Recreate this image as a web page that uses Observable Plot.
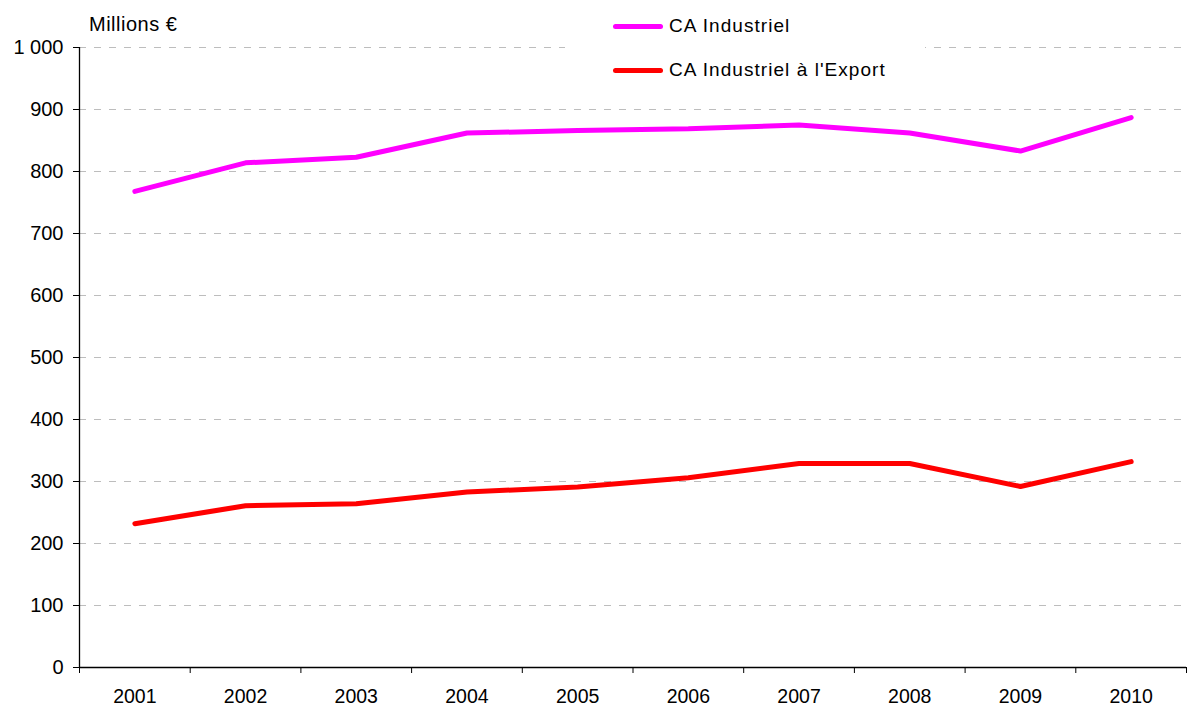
<!DOCTYPE html>
<html>
<head>
<meta charset="utf-8">
<script src="https://cdn.jsdelivr.net/npm/d3@7"></script>
<script src="https://cdn.jsdelivr.net/npm/@observablehq/plot@0.6"></script>
<style>
  html, body { margin: 0; padding: 0; background: #fff; }
  #wrap { position: relative; width: 1188px; height: 708px; font-family: "Liberation Sans", Arial, sans-serif; }
  #unit { position: absolute; left: 89px; top: 13px; font-size: 20px; letter-spacing: 0.5px; color: #000; }
  #legend { position: absolute; left: 565px; top: 4px; width: 360px; height: 90px; background: #fff; }
  .li { position: absolute; left: 48px; height: 24px; display: flex; align-items: center; font-size: 19px; letter-spacing: 1.05px; color: #000; white-space: nowrap; }
  .sw { width: 50px; height: 5px; border-radius: 3px; margin-right: 6px; }
</style>
</head>
<body>
<div id="wrap">
  <div id="chart"></div>
  <div id="unit">Millions €</div>
  <div id="legend"></div>
</div>
<script>
const years = [2001, 2002, 2003, 2004, 2005, 2006, 2007, 2008, 2009, 2010];
const caIndustriel = [768, 814, 823, 862, 866, 869, 875, 862, 833, 887];
const caExport = [232, 261, 264, 283, 291, 306, 329, 329, 292, 332];
const seriesNames = ["CA Industriel", "CA Industriel à l'Export"];
const seriesColors = ["#FF00FF", "#FF0000"];
const yTicks = [0, 100, 200, 300, 400, 500, 600, 700, 800, 900, 1000];

const data = [];
years.forEach((y, i) => {
  data.push({year: y, value: caIndustriel[i], series: seriesNames[0]});
  data.push({year: y, value: caExport[i], series: seriesNames[1]});
});
const boundaries = [years[0] - 0.5, ...years.map(y => y + 0.5)];
const fmt = d3.formatLocale({decimal: ",", thousands: "\u00a0", grouping: [3], currency: ["", " €"]}).format(",d");

const plot = Plot.plot({
  width: 1188,
  height: 708,
  marginLeft: 79,
  marginRight: 2,
  marginTop: 47,
  marginBottom: 41,
  style: {fontFamily: "Liberation Sans, Arial, sans-serif", fontSize: "20px", color: "#000", background: "#fff", overflow: "visible"},
  x: {domain: [years[0] - 0.5, years[years.length - 1] + 0.5]},
  y: {domain: [0, 1000]},
  color: {domain: seriesNames, range: seriesColors},
  marks: [
    Plot.gridY(yTicks.filter(d => d > 0), {stroke: "#bdbdbd", strokeOpacity: 1, strokeDasharray: "7,8", strokeWidth: 1}),
    Plot.axisY(yTicks, {tickSize: 6, tickPadding: 10, tickFormat: fmt, label: null, fontSize: 20, stroke: "#000"}),
    Plot.axisX(years, {tickSize: 0, tickPadding: 22, tickFormat: d => String(d), label: null, fontSize: 19.5}),
    Plot.axisX(boundaries, {tickSize: 6, tickFormat: () => "", label: null, stroke: "#000"}),
    Plot.ruleX([boundaries[0]], {stroke: "#000", strokeWidth: 1.3}),
    Plot.ruleY([0], {stroke: "#000", strokeWidth: 1.3}),
    Plot.line(data, {x: "year", y: "value", z: "series", stroke: "series", strokeWidth: 5, strokeLinecap: "round", strokeLinejoin: "miter"})
  ]
});
document.getElementById("chart").appendChild(plot);

const legend = document.getElementById("legend");
seriesNames.forEach((name, i) => {
  const row = document.createElement("div");
  row.className = "li";
  row.style.top = (10 + i * 44) + "px";
  const sw = document.createElement("div");
  sw.className = "sw";
  sw.style.background = seriesColors[i];
  const t = document.createElement("span");
  t.textContent = name;
  row.appendChild(sw);
  row.appendChild(t);
  legend.appendChild(row);
});
</script>
</body>
</html>
